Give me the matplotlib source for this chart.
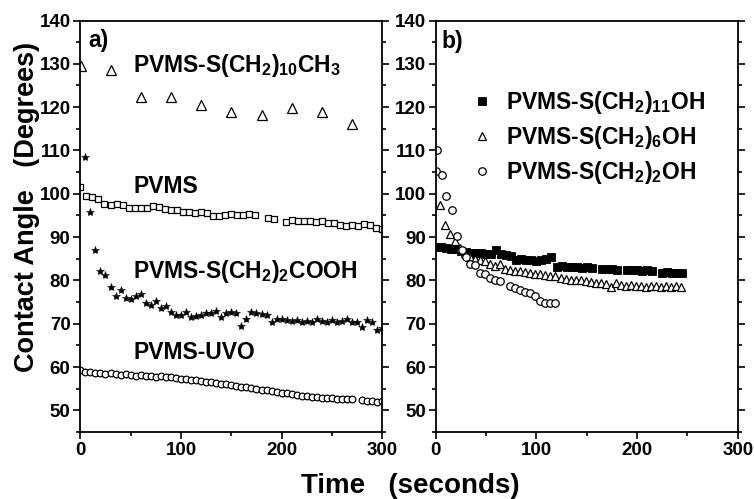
import matplotlib
matplotlib.use("Agg")
import matplotlib.pyplot as plt
from matplotlib.ticker import MultipleLocator

plt.rcParams['font.family'] = ['Liberation Sans', 'DejaVu Sans']
plt.rcParams['font.weight'] = 'bold'
plt.rcParams['mathtext.fontset'] = 'custom'
plt.rcParams['mathtext.rm'] = 'Liberation Sans:bold'
plt.rcParams['mathtext.it'] = 'Liberation Sans:bold'
plt.rcParams['mathtext.bf'] = 'Liberation Sans:bold'

# ---- panel a: contact angle vs time ----
t_ch3 = [1, 30, 60, 90, 120, 150, 180, 210, 240, 270]
ca_ch3 = [129.4, 128.6, 122.4, 122.4, 120.5, 118.8, 118.1, 119.8, 118.8, 116.2]

t_pvms = [0, 6, 12, 18, 24, 30, 36, 42, 48, 54, 60, 66, 72, 78, 84, 90, 96, 102,
          108, 114, 120, 126, 132, 138, 144, 150, 156, 162, 168, 174, 186, 192,
          204, 210, 216, 222, 228, 234, 240, 246, 252, 258, 264, 270, 276, 282,
          288, 294, 300]
ca_pvms = [101.6, 99.5, 99.2, 98.9, 97.7, 97.5, 97.6, 97.4, 96.8, 96.7,
           96.8, 96.6, 97.1, 96.9, 96.4, 96.2, 96.3, 95.8, 95.7, 95.6,
           95.8, 95.5, 94.9, 94.8, 95.0, 95.3, 95.2, 95.1, 95.3, 95.0,
           94.3, 94.1,
           93.5, 93.9, 93.7, 93.6, 93.8, 93.5, 93.6, 93.2, 93.3, 92.7,
           92.6, 92.8, 92.6, 93.0, 92.8, 92.2, 91.8]

t_cooh = [5, 10, 15, 20, 25, 30, 35, 40, 45, 50, 55, 60, 65, 70, 75, 80, 85, 90,
          95, 100, 105, 110, 115, 120, 125, 130, 135, 140, 145, 150, 155, 160,
          165, 170, 175, 180, 185, 190, 195, 200, 205, 210, 215, 220, 225, 230,
          235, 240, 245, 250, 255, 260, 265, 270, 275, 280, 285, 290, 295, 300]
ca_cooh = [108.5, 95.7, 87.1, 82.1, 81.3, 78.4, 76.4, 77.8, 76.0, 75.7,
           76.4, 76.8, 74.8, 74.4, 75.2, 73.7, 74.1, 72.6, 71.9, 72.0,
           72.8, 71.6, 71.7, 72.1, 72.4, 72.5, 73.0, 71.6, 72.5, 72.7,
           72.4, 69.4, 71.0, 72.6, 72.4, 72.3, 72.1, 70.4, 71.0, 71.2,
           70.9, 70.6, 70.8, 70.5, 70.7, 70.4, 71.0, 70.6, 70.5, 70.8,
           70.4, 70.7, 71.0, 70.4, 70.3, 69.3, 70.8, 70.3, 68.5, 69.0]

t_uvo = [0, 5, 10, 15, 20, 25, 30, 35, 40, 45, 50, 55, 60, 65, 70, 75, 80, 85,
         90, 95, 100, 105, 110, 115, 120, 125, 130, 135, 140, 145, 150, 155, 160,
         165, 170, 175, 180, 185, 190, 195, 200, 205, 210, 215, 220, 225, 230,
         235, 240, 245, 250, 255, 260, 265, 270, 280, 285, 290, 295, 300]
ca_uvo = [59.2, 58.9, 58.8, 58.7, 58.6, 58.5, 58.6, 58.4, 58.2, 58.3,
          58.2, 58.0, 58.1, 58.0, 57.9, 57.8, 57.9, 57.7, 57.6, 57.5,
          57.3, 57.2, 57.0, 56.9, 56.8, 56.6, 56.5, 56.3, 56.1, 56.0,
          55.8, 55.6, 55.5, 55.3, 55.1, 55.0, 54.8, 54.6, 54.4, 54.3,
          54.1, 53.9, 53.7, 53.5, 53.3, 53.2, 53.1, 53.0, 52.9, 52.9,
          52.8, 52.7, 52.7, 52.6, 52.6, 52.3, 52.2, 52.1, 52.0, 52.1]

# ---- panel b: hydroxyl-terminated films ----
t_11oh = [0, 5, 10, 15, 20, 25, 30, 35, 40, 45, 50, 55, 60, 65, 70, 75, 80, 85,
          90, 95, 100, 105, 110, 115, 120, 125, 130, 135, 140, 145, 150, 155,
          165, 170, 175, 180, 190, 195, 200, 205, 210, 215, 225, 230, 235, 240,
          245]
ca_11oh = [87.8, 87.6, 87.5, 87.3, 87.2, 86.8, 86.6, 86.4, 86.3, 86.4,
           86.0, 86.1, 87.0, 86.0, 85.9, 85.6, 84.8, 85.0, 84.7, 84.8,
           84.5, 84.7, 84.9, 85.3, 83.2, 83.3, 83.1, 83.0, 83.1, 82.9,
           83.0, 82.9,
           82.6, 82.7, 82.6, 82.5,
           82.4, 82.3, 82.4, 82.2, 82.3, 82.1,
           81.8, 81.9, 81.7, 81.8, 81.6]

t_6oh = [4, 9, 14, 19, 24, 29, 34, 39, 44, 49, 54, 59, 64, 69, 74, 79, 84, 89,
         94, 99, 104, 109, 114, 119, 124, 129, 134, 139, 144, 149, 154, 159,
         164, 169, 174, 179, 184, 189, 194, 199, 204, 209, 214, 219, 224, 229,
         234, 239, 244]
ca_6oh = [97.5, 92.9, 90.6, 89.0, 87.5, 86.3, 85.5, 85.0, 84.6, 84.4,
          83.9, 83.4, 83.8, 82.6, 82.3, 82.2, 82.1, 82.0, 81.8, 81.5,
          81.4, 81.3, 81.1, 81.0, 80.5, 80.3, 80.2, 80.1, 80.0, 79.9,
          79.7, 79.4, 79.3, 79.2, 78.4, 79.3, 79.0, 78.8, 78.9, 78.6,
          78.7, 78.5, 78.8, 78.6, 78.5, 78.7, 78.4, 78.6, 78.4]

t_2oh = [0, 1, 6, 10, 16, 21, 26, 30, 34, 39, 44, 49, 54, 59, 64, 74, 79, 84,
         89, 94, 99, 104, 109, 114, 119]
ca_2oh = [105.2, 110.1, 104.4, 99.4, 96.3, 90.2, 87.1, 85.4, 83.7, 83.6,
          81.7, 81.4, 80.6, 80.2, 79.8, 78.7, 78.3, 77.7, 77.3, 77.1,
          76.4, 75.2, 74.7, 74.8, 74.7]

labels_a = [r'PVMS-S(CH$_2$)$_{10}$CH$_3$', 'PVMS',
            r'PVMS-S(CH$_2$)$_2$COOH', 'PVMS-UVO']
labels_b = [r'PVMS-S(CH$_2$)$_{11}$OH', r'PVMS-S(CH$_2$)$_6$OH',
            r'PVMS-S(CH$_2$)$_2$OH']

W, H = 754, 499
fig = plt.figure(figsize=(W / 100, H / 100), dpi=100)
ax_bottom, ax_top = 432, 20.5
axa = fig.add_axes([80.3 / W, 1 - ax_bottom / H, 302 / W, (ax_bottom - ax_top) / H])
axb = fig.add_axes([435.7 / W, 1 - ax_bottom / H, 302 / W, (ax_bottom - ax_top) / H])

k = dict(linestyle='none', color='black')
axa.plot(t_ch3, ca_ch3, marker='^', ms=7, mfc='white', mec='black', mew=0.9, **k)
axa.plot(t_pvms, ca_pvms, marker='s', ms=4.8, mfc='white', mec='black', mew=0.9, **k)
axa.plot(t_cooh, ca_cooh, marker='*', ms=6, mfc='black', mec='black', mew=0.4, **k)
axa.plot(t_uvo, ca_uvo, marker='o', ms=4.8, mfc='white', mec='black', mew=0.9, **k)

h1, = axb.plot(t_11oh, ca_11oh, marker='s', ms=5.2, mfc='black', mec='black', mew=0.6, **k)
h2, = axb.plot(t_6oh, ca_6oh, marker='^', ms=5.6, mfc='white', mec='black', mew=0.9, **k)
h3, = axb.plot(t_2oh, ca_2oh, marker='o', ms=5.4, mfc='white', mec='black', mew=0.9, **k)

for ax in (axa, axb):
    ax.set_xlim(0, 300)
    ax.set_ylim(45, 140)
    ax.xaxis.set_major_locator(MultipleLocator(100))
    ax.xaxis.set_minor_locator(MultipleLocator(50))
    ax.yaxis.set_major_locator(MultipleLocator(10))
    ax.yaxis.set_minor_locator(MultipleLocator(5))
    ax.tick_params(which='both', direction='out', right=True, top=False,
                   labelright=False, width=1.2, labelsize=13.5, pad=2)
    ax.tick_params(which='major', length=5)
    ax.tick_params(which='minor', length=3)
    for s in ax.spines.values():
        s.set_linewidth(1.3)
    for lab in ax.get_xticklabels() + ax.get_yticklabels():
        lab.set_fontweight('bold')

def ya(px):
    return (ax_bottom - px) / (ax_bottom - ax_top)

fs_ann = 16.5
xa = (133.3 - 80.3) / 302
for lab, yb in zip(labels_a, [71.7, 192.7, 278.3, 359.3]):
    axa.text(xa, ya(yb), lab, transform=axa.transAxes, fontsize=fs_ann,
             va='baseline', ha='left')

axa.text(0.026, ya(46.7), 'a)', transform=axa.transAxes, fontsize=fs_ann, va='baseline')
axb.text(0.018, ya(48.3), 'b)', transform=axb.transAxes, fontsize=fs_ann, va='baseline')

axb.legend([h1, h2, h3], labels_b, loc='upper left',
           bbox_to_anchor=((470.2 - 435.7) / 302, ya(89)), frameon=False,
           fontsize=fs_ann, handlelength=1.0, handletextpad=0.55,
           labelspacing=0.36, borderpad=0, borderaxespad=0, numpoints=1)

fig.text(27 / W, 1 - 207 / H, 'Contact Angle   (Degrees)', rotation=90,
         ha='center', va='center', fontsize=19.5)
fig.text(410 / W, 1 - 493 / H, 'Time   (seconds)', ha='center', va='baseline',
         fontsize=20)

fig.savefig('out.png', dpi=100, facecolor='white')
